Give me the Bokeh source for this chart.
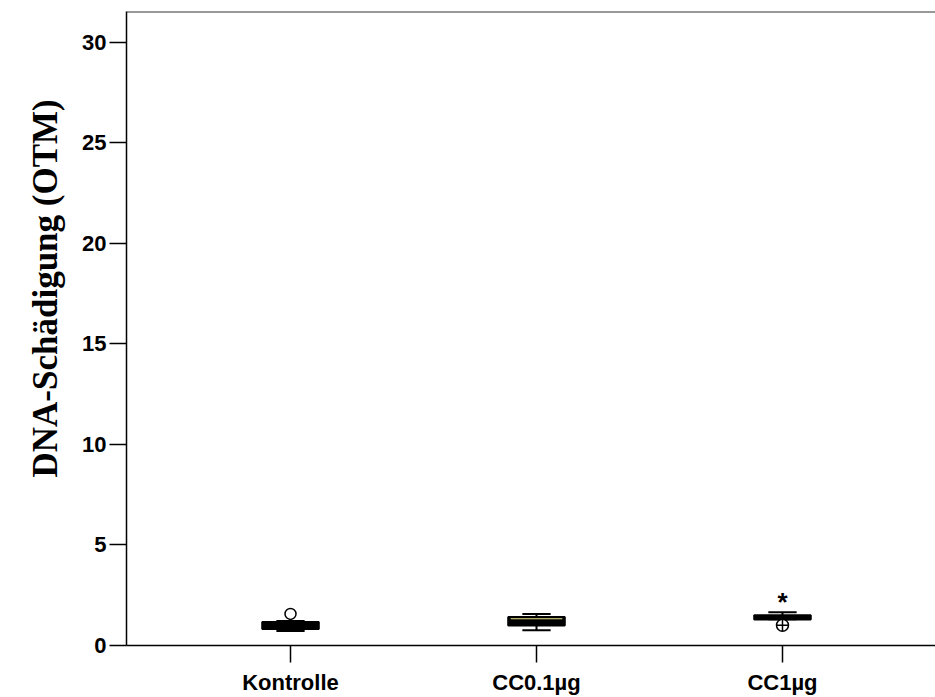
from bokeh.plotting import figure
from bokeh.models import ColumnDataSource, Range1d, FixedTicker, Span, Title
from bokeh.core.properties import value
from bokeh.embed import file_html
from bokeh.resources import INLINE

# ---- data ----
categories = ["Kontrolle", "CC0.1µg", "CC1µg"]
positions = [1, 2, 3]
lower_whisker = [0.72, 0.76, 1.30]
q1 = [0.82, 0.99, 1.29]
median = [1.00, 1.33, 1.40]
q3 = [1.17, 1.42, 1.50]
upper_whisker = [1.22, 1.57, 1.65]

outlier_x = [1]
outlier_y = [1.57]
outlier2_x = [3]
outlier2_y = [1.01]
extreme_x = [3]
extreme_y = [2.45]

y_ticks = [0, 5, 10, 15, 20, 25, 30]
y_title = "DNA-Schädigung (OTM)"

BOX_W = 0.23
CAP_W = 0.115

p = figure(width=935, height=697, output_backend="svg", toolbar_location=None,
           x_range=Range1d(0.3333, 3.622), y_range=Range1d(0, 31.54),
           min_border_left=126, min_border_top=11, min_border_right=0,
           min_border_bottom=51)
p.outline_line_color = None
p.xgrid.visible = False
p.ygrid.visible = False
p.background_fill_color = "white"
p.border_fill_color = "white"

src = ColumnDataSource(dict(x=positions, lw=lower_whisker, q1=q1, med=median,
                            q3=q3, uw=upper_whisker,
                            left=[v - BOX_W / 2 for v in positions],
                            right=[v + BOX_W / 2 for v in positions],
                            cl=[v - CAP_W / 2 for v in positions],
                            cr=[v + CAP_W / 2 for v in positions]))

# whiskers
p.segment(x0="x", y0="q3", x1="x", y1="uw", source=src, line_color="black", line_width=2)
p.segment(x0="x", y0="lw", x1="x", y1="q1", source=src, line_color="black", line_width=2)
p.segment(x0="cl", y0="uw", x1="cr", y1="uw", source=src, line_color="black", line_width=2)
p.segment(x0="cl", y0="lw", x1="cr", y1="lw", source=src, line_color="black", line_width=2)
# boxes
p.quad(left="left", right="right", bottom="q1", top="q3", source=src,
       fill_color="black", line_color="black", line_width=2)
# medians
p.segment(x0="left", y0="med", x1="right", y1="med", source=src,
          line_color="black", line_width=1)
p.segment(x0=[positions[1] - BOX_W / 2 + 0.01], y0=[median[1]],
          x1=[positions[1] + BOX_W / 2 - 0.01], y1=[median[1]],
          line_color="#f0e68c", line_width=1)

# outliers
p.scatter(outlier_x, outlier_y, marker="circle", size=11, fill_color="white",
          line_color="black", line_width=1.5)
p.scatter(outlier2_x, outlier2_y, marker="circle_cross", size=12, fill_color="white",
          line_color="black", line_width=1.5)
p.text(x=extreme_x, y=extreme_y, text=["*"], text_font=value("Liberation Sans"),
       text_font_style="bold", text_font_size="26px", text_align="center",
       text_baseline="alphabetic", y_offset=6, text_color="black")

# top border line
p.add_layout(Span(location=31.54, dimension="width", line_color="#333333", line_width=2))

# axes
for ax in (p.xaxis, p.yaxis):
    ax.axis_line_color = "black"
    ax.axis_line_width = 1.5
    ax.major_tick_line_color = "black"
    ax.major_tick_line_width = 1.5
    ax.major_tick_in = 0
    ax.major_tick_out = 17
    ax.minor_tick_line_color = None
    ax.major_label_text_font = "Liberation Sans"
    ax.major_label_text_font_style = "bold"
    ax.major_label_text_font_size = "22px"
    ax.major_label_text_color = "black"

p.xaxis.ticker = FixedTicker(ticks=positions)
p.xaxis.major_label_overrides = {pos: c for pos, c in zip(positions, categories)}
p.xaxis.major_label_standoff = 7
p.yaxis.ticker = FixedTicker(ticks=y_ticks)
p.yaxis.major_label_standoff = 3

# y-axis title as a side title, so it can sit above the frame centre
p.add_layout(Title(text=y_title, align="left", offset=168,
                   text_font="Liberation Serif", text_font_style="bold",
                   text_font_size="35px", text_color="black", standoff=30),
             "left")

open("out.html", "w").write(file_html(p, INLINE))
